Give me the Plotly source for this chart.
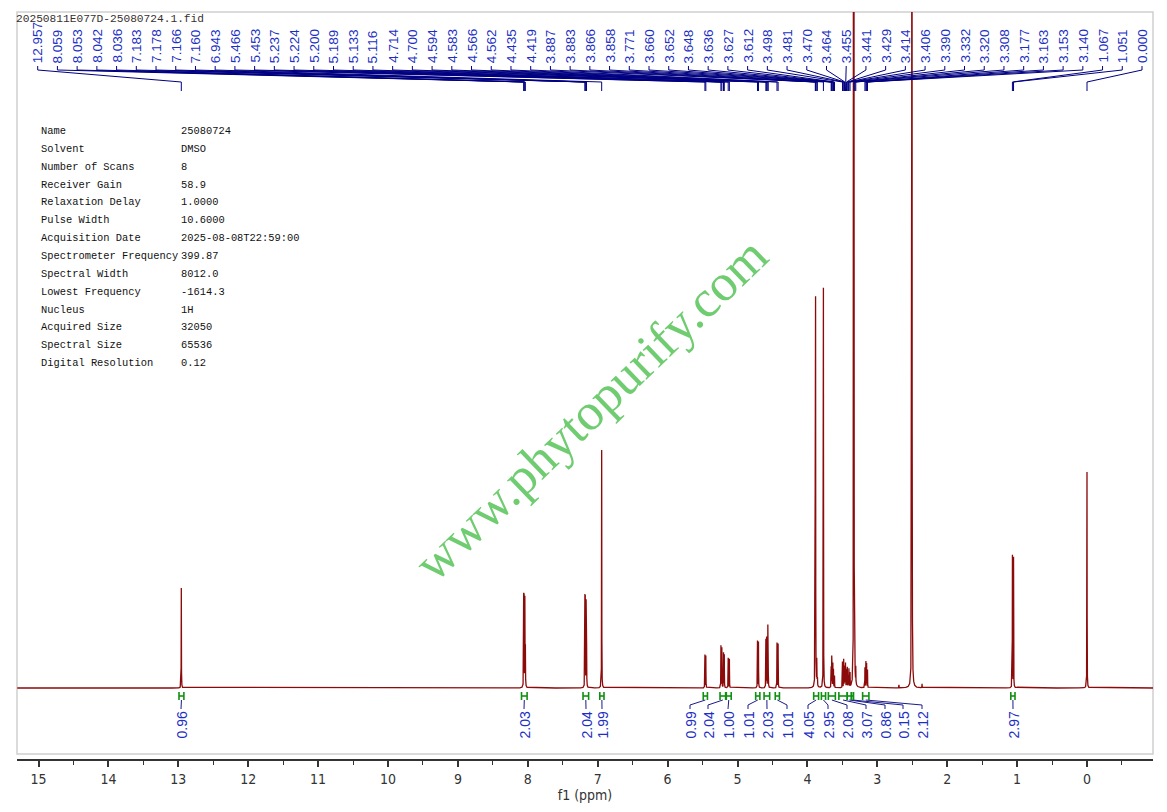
import numpy as np
import plotly.graph_objects as go

# ---------------- data ----------------
peak_label_ppm = [12.957, 8.059, 8.053, 8.042, 8.036, 7.183, 7.178, 7.166, 7.160, 6.943,
                  5.466, 5.453, 5.237, 5.224, 5.200, 5.189, 5.133, 5.116, 4.714, 4.700,
                  4.594, 4.583, 4.566, 4.562, 4.435, 4.419, 3.887, 3.883, 3.866, 3.858,
                  3.771, 3.660, 3.652, 3.648, 3.636, 3.627, 3.612, 3.498, 3.481, 3.470,
                  3.464, 3.455, 3.441, 3.429, 3.414, 3.406, 3.390, 3.332, 3.320, 3.308,
                  3.177, 3.163, 3.153, 3.140, 1.067, 1.051, 0.000]

spec_ppm = [12.957, 8.059, 8.053, 8.042, 8.036, 7.183, 7.178, 7.166, 7.160, 6.943,
            5.466, 5.453, 5.237, 5.224, 5.200, 5.189, 5.133, 5.116, 4.714, 4.700,
            4.594, 4.583, 4.566, 4.562, 4.435, 4.419, 3.887, 3.883, 3.866, 3.858,
            3.771, 3.660, 3.652, 3.648, 3.636, 3.627, 3.612, 3.498, 3.481, 3.470,
            3.464, 3.455, 3.441, 3.429, 3.414, 3.406, 3.390, 3.332, 3.320, 3.308,
            3.177, 3.163, 3.153, 3.140, 2.690, 2.360, 1.067, 1.051, 0.000]
spec_height = [100, 89, 87, 85, 85, 86, 84, 82, 80, 238,
               33, 32, 42, 40, 35, 33, 30, 29, 47, 46,
               48, 50, 56, 55, 45, 44, 348, 348, 25, 22,
               400, 20, 28, 28, 24, 18, 12, 26, 28, 20,
               22, 24, 18, 20, 16, 18, 14, 18, 20, 16,
               20, 26, 24, 18, 3, 4, 132, 130, 216]

solvent_ppm = [3.336, 2.505]
solvent_height = [2000, 2000]

integral_values = ["0.96", "2.03", "2.04", "1.99", "0.99", "2.04", "1.00", "1.01", "2.03",
                   "1.01", "4.05", "2.95", "2.08", "3.07", "0.86", "0.15", "2.12", "2.97"]
integral_from = [12.99, 8.09, 7.21, 6.97, 5.49, 5.25, 5.16, 4.74, 4.62,
                 4.46, 3.91, 3.80, 3.70, 3.55, 3.43, 3.37, 3.21, 1.09]
integral_to = [12.92, 8.01, 7.13, 6.91, 5.43, 5.17, 5.09, 4.68, 4.54,
               4.40, 3.84, 3.74, 3.60, 3.43, 3.37, 3.34, 3.12, 1.03]

param_names = ["Name", "Solvent", "Number of Scans", "Receiver Gain", "Relaxation Delay",
               "Pulse Width", "Acquisition Date", "Spectrometer Frequency", "Spectral Width",
               "Lowest Frequency", "Nucleus", "Acquired Size", "Spectral Size",
               "Digital Resolution"]
param_values = ["25080724", "DMSO", "8", "58.9", "1.0000", "10.6000", "2025-08-08T22:59:00",
                "399.87", "8012.0", "-1614.3", "1H", "32050", "65536", "0.12"]

x_ticks = list(range(0, 16))
file_title = "20250811E077D-25080724.1.fid"
watermark = "www.phytopurify.com"

# ---------------- layout helpers (page pixel geometry) ----------------
W, H = 1167, 812
OFF = 8                      # page body margin
PL, PR, PT, PB = 17, 1153, 12, 759   # plot area in page pixels
L, T = PL - OFF, PT - OFF
R = W - (PR - OFF)
B = H - (PB - OFF)
ZERO_PX, PX_PER_PPM = 1087.0, 69.9
BASE_PX = 688.0

def xp(px):
    return (ZERO_PX - px) / PX_PER_PPM

def yp(py):
    return BASE_PX - py

def xpaper(px):
    return (px - PL) / (PR - PL)

def ypaper(py):
    return (PB - py) / (PB - PT)

x_range = [xp(PL), xp(PR)]
y_range = [yp(PB), yp(PT)]

# integration label x positions (layout)
integral_label_px = [181, 524, 586, 602, 690, 708, 728, 748, 767,
                     787, 808, 828, 847, 866, 885, 903, 922, 1013]

# ---------------- spectrum curve ----------------
LW = 0.0015
LW_SOLV = 0.0015
all_p = np.array(spec_ppm + solvent_ppm)
base_grid = np.arange(x_range[1], x_range[0], 0.004)
fine = [np.arange(p - 0.06, p + 0.06, 0.0003) for p in all_p]
grid = np.unique(np.concatenate([base_grid] + fine + [all_p]))
yv = np.zeros_like(grid)
for p, h in zip(spec_ppm, spec_height):
    yv += h / (1 + ((grid - p) / LW) ** 2)
for p, h in zip(solvent_ppm, solvent_height):
    yv += h / (1 + ((grid - p) / LW_SOLV) ** 2)

fig = go.Figure()
fig.add_trace(go.Scatter(x=grid, y=np.round(yv, 2), mode="lines",
                         line=dict(color="#8b0a0a", width=1.3), hoverinfo="skip"))

# ---------------- peak label connectors ----------------
n = len(peak_label_ppm)
lab_x0, lab_dx = 37.7, (1142.0 - 37.7) / (n - 1)
cx, cy = [], []
for i, p in enumerate(peak_label_ppm):
    lx = xp(lab_x0 + i * lab_dx)
    cx += [lx, lx, p, p, None]
    cy += [yp(66), yp(70), yp(82), yp(91), None]
fig.add_trace(go.Scatter(x=cx, y=cy, mode="lines", line=dict(color="#000080", width=1),
                         hoverinfo="skip"))

annotations = []
for i, p in enumerate(peak_label_ppm):
    annotations.append(dict(x=xp(lab_x0 + i * lab_dx), y=yp(65), xref="x", yref="y",
                            text=f"{p:.3f}", showarrow=False, textangle=-90,
                            xanchor="center", yanchor="bottom",
                            font=dict(family="Liberation Sans, Arial", size=13.5,
                                      color="#1c2fc4")))

# ---------------- integrals ----------------
gx, gy = [], []
ix, iy = [], []
for a, b, lpx in zip(integral_from, integral_to, integral_label_px):
    gx += [a, b, None, a, a, None, b, b, None]
    gy += [yp(696), yp(696), None, yp(692), yp(700), None, yp(692), yp(700), None]
    c = (a + b) / 2
    ix += [c, xp(lpx), xp(lpx), None]
    iy += [yp(700), yp(705), yp(709), None]
fig.add_trace(go.Scatter(x=ix, y=iy, mode="lines", line=dict(color="#1a1a8a", width=1),
                         hoverinfo="skip"))
fig.add_trace(go.Scatter(x=gx, y=gy, mode="lines", line=dict(color="#109010", width=1.6),
                         hoverinfo="skip"))
for v, lpx in zip(integral_values, integral_label_px):
    annotations.append(dict(x=xp(lpx), y=yp(710), xref="x", yref="y", text=v,
                            showarrow=False, textangle=-90, xanchor="center",
                            yanchor="top",
                            font=dict(family="Liberation Sans, Arial", size=14,
                                      color="#1c2fc4")))

# ---------------- parameter table ----------------
row0, drow = 131.0, 17.85
for k, (nm, vl) in enumerate(zip(param_names, param_values)):
    yy = yp(row0 + k * drow)
    annotations.append(dict(x=xp(39), y=yy, xref="x", yref="y", text=nm, showarrow=False,
                            xanchor="left", yanchor="middle",
                            font=dict(family="Liberation Mono, monospace", size=10.4,
                                      color="#111")))
    annotations.append(dict(x=xp(179), y=yy, xref="x", yref="y", text=vl, showarrow=False,
                            xanchor="left", yanchor="middle",
                            font=dict(family="Liberation Mono, monospace", size=10.4,
                                      color="#111")))

# title and watermark
annotations.append(dict(x=xpaper(14), y=ypaper(19), xref="paper", yref="paper",
                        text=file_title, showarrow=False, xanchor="left", yanchor="middle",
                        font=dict(family="Liberation Mono, monospace", size=11.2,
                                  color="#3a3030")))
annotations.append(dict(x=xp(590), y=yp(409), xref="x", yref="y", text=watermark,
                        showarrow=False, textangle=-44, xanchor="center", yanchor="middle",
                        font=dict(family="Liberation Serif, Times New Roman, serif", size=52,
                                  color="#70cc70")))

tick_font = "DejaVu Sans Condensed, Liberation Sans Narrow, Arial Narrow, Liberation Sans, Arial"
fig.update_layout(
    width=W, height=H,
    margin=dict(l=L, r=R, t=T, b=B),
    paper_bgcolor="white", plot_bgcolor="white",
    showlegend=False,
    annotations=annotations,
    shapes=[dict(type="rect", xref="paper", yref="paper", x0=0, x1=1,
                 y0=ypaper(754), y1=1,
                 line=dict(color="#cfcfcf", width=1.5), layer="below")],
    xaxis=dict(range=x_range, showgrid=False, zeroline=False,
               tickmode="array", tickvals=x_ticks, ticktext=[str(t) for t in x_ticks],
               showline=True, linecolor="#333", linewidth=2,
               ticks="outside", ticklen=6, tickwidth=1.5, tickcolor="#333",
               minor=dict(dtick=0.5, tick0=0, ticks="outside", ticklen=3.5, tickwidth=1.2,
                          tickcolor="#333"),
               tickfont=dict(family=tick_font, size=14, color="#333"),
               title=dict(text="f1 (ppm)", standoff=2,
                          font=dict(family=tick_font, size=14, color="#333"))),
    yaxis=dict(range=y_range, visible=False, showgrid=False, zeroline=False),
)

fig.write_html("out.html")
